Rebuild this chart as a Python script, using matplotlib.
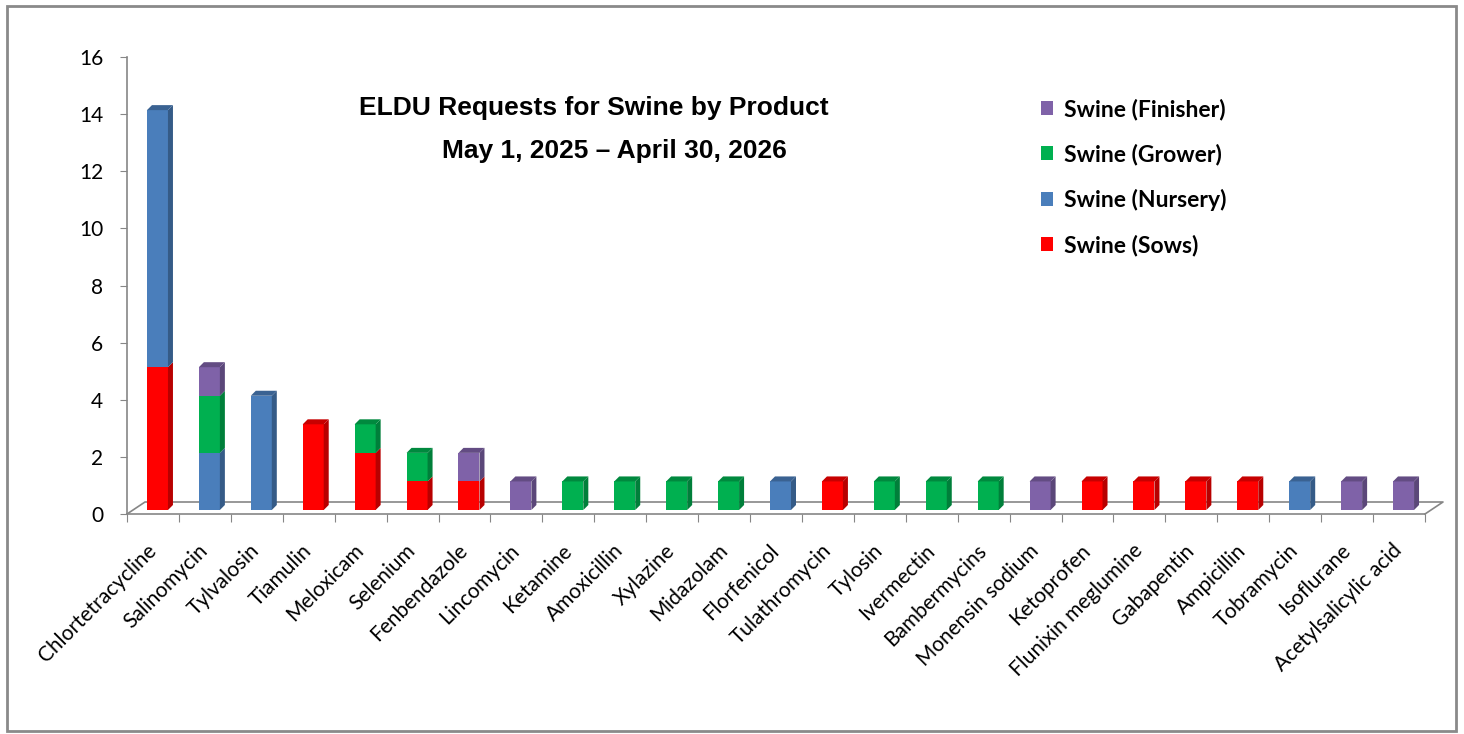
import matplotlib
matplotlib.use("Agg")
import matplotlib.pyplot as plt
import matplotlib.transforms as mtransforms
from matplotlib.patches import Polygon, Rectangle, Patch
import numpy as np

products = ["Chlortetracycline", "Salinomycin", "Tylvalosin", "Tiamulin", "Meloxicam",
            "Selenium", "Fenbendazole", "Lincomycin", "Ketamine", "Amoxicillin",
            "Xylazine", "Midazolam", "Florfenicol", "Tulathromycin", "Tylosin",
            "Ivermectin", "Bambermycins", "Monensin sodium", "Ketoprofen",
            "Flunixin meglumine", "Gabapentin", "Ampicillin", "Tobramycin",
            "Isoflurane", "Acetylsalicylic acid"]

sows = [5, 0, 0, 3, 2, 1, 1, 0, 0, 0, 0, 0, 0, 1, 0, 0, 0, 0, 1, 1, 1, 1, 0, 0, 0]
nursery = [9, 2, 4, 0, 0, 0, 0, 0, 0, 0, 0, 0, 1, 0, 0, 0, 0, 0, 0, 0, 0, 0, 1, 0, 0]
grower = [0, 2, 0, 0, 1, 1, 0, 0, 1, 1, 1, 1, 0, 0, 1, 1, 1, 0, 0, 0, 0, 0, 0, 0, 0]
finisher = [0, 1, 0, 0, 0, 0, 1, 1, 0, 0, 0, 0, 0, 0, 0, 0, 0, 1, 0, 0, 0, 0, 0, 1, 1]

series = [("Swine (Sows)", sows, "#ff0000"),
          ("Swine (Nursery)", nursery, "#4a7ebb"),
          ("Swine (Grower)", grower, "#00b050"),
          ("Swine (Finisher)", finisher, "#7f62a8")]

W, H = 1464, 734
fig = plt.figure(figsize=(W / 100, H / 100), dpi=100)
fig.patch.set_facecolor("white")

# axes box in pixels
x0, x1 = 127, 1425
y0, y1 = 514, 57
ax = fig.add_axes([x0 / W, 1 - y0 / H, (x1 - x0) / W, (y0 - y1) / H])
ax.set_xlim(-0.5, len(products) - 0.5)
ax.set_ylim(0, 16)

px_x = len(products) / (x1 - x0)
px_y = 16 / (y0 - y1)

gray = "#868686"
label_font = "Lato"

# bars sit a little behind/right of the axis plane
shift = ax.transData + mtransforms.ScaledTranslation(4.5 / 100, 4 / 100, fig.dpi_scale_trans)

def shade(c, f):
    rgb = np.array(matplotlib.colors.to_rgb(c))
    return tuple(rgb * f)

xs = np.arange(len(products))
bw = 21 * px_x
dx, dy = 5 * px_x, 5 * px_y
bottom = np.zeros(len(products))
tops = np.zeros(len(products))
top_color = [None] * len(products)

for name, vals, col in series:
    vals = np.array(vals, dtype=float)
    ax.bar(xs, vals, width=bw, bottom=bottom, color=col, linewidth=0,
           transform=shift, zorder=3)
    for i in range(len(products)):
        if vals[i] <= 0:
            continue
        xr = xs[i] + bw / 2
        b, t = bottom[i], bottom[i] + vals[i]
        side = Polygon([(xr, b), (xr + dx, b + dy), (xr + dx, t + dy), (xr, t)],
                       closed=True, facecolor=shade(col, 0.72), linewidth=0,
                       transform=shift, zorder=3)
        ax.add_patch(side)
        tops[i] = t
        top_color[i] = col
    bottom += vals

for i in range(len(products)):
    if top_color[i] is None:
        continue
    xl, xr, t = xs[i] - bw / 2, xs[i] + bw / 2, tops[i]
    top = Polygon([(xl, t), (xl + dx, t + dy), (xr + dx, t + dy), (xr, t)],
                  closed=True, facecolor=shade(top_color[i], 0.78), linewidth=0,
                  transform=shift, zorder=4)
    ax.add_patch(top)

# floor of the 3d plot
fdx, fdy = 18 * px_x, 12 * px_y
xa, xb = -0.5, len(products) - 0.5
ax.plot([xa, xa + fdx, xb + fdx, xb], [0, fdy, fdy, 0], color=gray, lw=1.2,
        zorder=2, clip_on=False)

for s in ["top", "right"]:
    ax.spines[s].set_visible(False)
for s in ["left", "bottom"]:
    ax.spines[s].set_color(gray)
    ax.spines[s].set_linewidth(1.2)

ax.set_yticks(range(0, 17, 2))
ax.set_yticklabels([str(v) for v in range(0, 17, 2)], fontsize=15, family=label_font)
ax.tick_params(axis="y", length=5, color=gray, pad=12)

ax.set_xticks(np.arange(-0.5, len(products), 1.0))
ax.set_xticklabels([])
ax.tick_params(axis="x", length=6, color=gray)
ax.set_xticks(xs, minor=True)
ax.set_xticklabels(products, minor=True, rotation=45, ha="right",
                   rotation_mode="anchor", fontsize=15, family=label_font)
ax.tick_params(axis="x", which="minor", length=0, pad=19)
nudge = mtransforms.ScaledTranslation(-7 / 100, 0, fig.dpi_scale_trans)
for lab in ax.get_xticklabels(minor=True):
    lab.set_transform(lab.get_transform() + nudge)
ax.set_facecolor("none")

fig.text(594 / W, 1 - 108 / H, "ELDU Requests for Swine by Product", ha="center",
         va="center", fontsize=19, fontweight="bold", family="Liberation Sans")
fig.text(614 / W, 1 - 151 / H, "May 1, 2025 \u2013 April 30, 2026", ha="center",
         va="center", fontsize=19, fontweight="bold", family="Liberation Sans")

handles = [Patch(facecolor=c, edgecolor="none", label=n) for n, v, c in reversed(series)]
leg = fig.legend(handles=handles, loc="upper left", bbox_to_anchor=(1020 / W, 1 - 78 / H),
                 frameon=False, handlelength=0.55, handleheight=0.55, handletextpad=0.45,
                 labelspacing=1.02, prop={"family": label_font, "weight": "bold", "size": 16.5})

fig.patches.append(Rectangle((7 / W, 3 / H), 1449 / W, 725 / H, transform=fig.transFigure,
                             fill=False, edgecolor="#8a8a8a", linewidth=2))

fig.savefig("out.png", dpi=100)
